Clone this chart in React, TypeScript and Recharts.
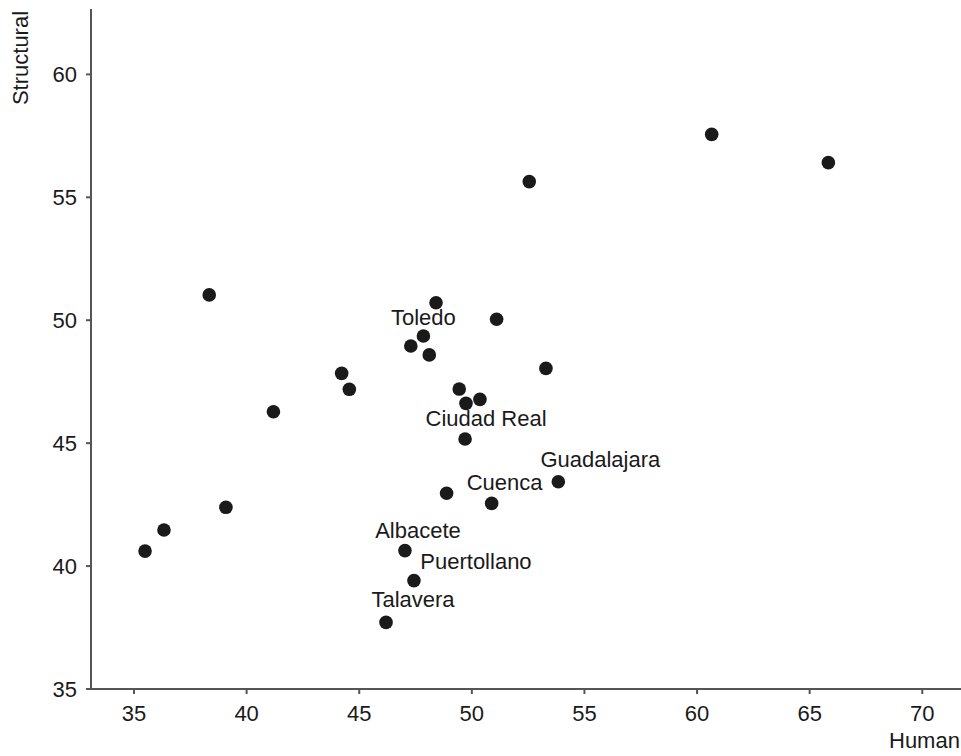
import { ScatterChart, Scatter, XAxis, YAxis } from "recharts";

// values
const cities = [
  "", "", "", "", "", "", "", "", "Toledo", "", "", "", "", "", "Ciudad Real",
  "", "", "", "", "", "Guadalajara", "Cuenca", "", "Albacete", "Puertollano", "Talavera",
];
const human = [
  35.49, 36.33, 38.34, 39.08, 41.19, 44.22, 44.56, 47.29, 47.85, 48.11, 48.41, 49.44, 49.74,
  50.36, 49.7, 51.1, 53.29, 52.55, 60.65, 65.83, 53.84, 50.88, 48.88, 47.03, 47.43, 46.19,
];
const structural = [
  40.61, 41.47, 51.03, 42.39, 46.28, 47.84, 47.19, 48.95, 49.36, 48.59, 50.71, 47.2, 46.62,
  46.78, 45.17, 50.04, 48.04, 55.64, 57.56, 56.41, 43.43, 42.55, 42.96, 40.63, 39.41, 37.71,
];
const xTicks = [35, 40, 45, 50, 55, 60, 65, 70];
const yTicks = [35, 40, 45, 50, 55, 60];

// where each label sits relative to its point (centre x, baseline y)
const labelOffset: Record<string, [number, number]> = {
  Toledo: [0, -11],
  "Ciudad Real": [21, -13],
  Guadalajara: [42, -15],
  Cuenca: [13, -13],
  Albacete: [13, -13],
  Puertollano: [62, -12],
  Talavera: [27, -15],
};

const data = human.map((h, i) => ({ human: h, structural: structural[i], name: cities[i] }));

const FONT = "'Liberation Sans', Arial, sans-serif";
const INK = "#1a1a1a";
const AXIS = "#555555";

function Dot(props: any) {
  const { cx, cy, payload } = props;
  const off = payload.name ? labelOffset[payload.name] : null;
  return (
    <g>
      <circle cx={cx} cy={cy} r={6.8} fill={INK} />
      {off && (
        <text
          x={cx + off[0]}
          y={cy + off[1]}
          textAnchor="middle"
          fontSize={22}
          fontFamily={FONT}
          fill={INK}
        >
          {payload.name}
        </text>
      )}
    </g>
  );
}

export default function App() {
  const tick = { fontSize: 22, fill: INK, fontFamily: FONT };
  return (
    <div style={{ position: "relative", width: 961, height: 756, background: "#fff" }}>
      <style>{"body{margin:0;overflow:hidden}"}</style>
      <ScatterChart width={961} height={756} margin={{ top: 9, right: 0, bottom: 0, left: 0 }}>
        <XAxis
          type="number"
          dataKey="human"
          domain={[33.09, 71.72]}
          ticks={xTicks}
          height={67}
          tick={tick}
          tickSize={5}
          tickMargin={11}
          axisLine={{ stroke: AXIS, strokeWidth: 2 }}
          tickLine={{ stroke: AXIS, strokeWidth: 2 }}
          allowDataOverflow
        />
        <YAxis
          type="number"
          dataKey="structural"
          domain={[35, 62.66]}
          ticks={yTicks}
          width={91}
          tick={tick}
          tickSize={5}
          tickMargin={9}
          axisLine={{ stroke: AXIS, strokeWidth: 2 }}
          tickLine={{ stroke: AXIS, strokeWidth: 2 }}
          allowDataOverflow
        />
        <Scatter data={data} shape={Dot} isAnimationActive={false} />
      </ScatterChart>
      <svg
        width={961}
        height={756}
        style={{ position: "absolute", left: 0, top: 0, pointerEvents: "none" }}
      >
        <text
          x={28}
          y={58}
          transform="rotate(-90 28 58)"
          textAnchor="middle"
          fontSize={22}
          fontFamily={FONT}
          fill={INK}
        >
          Structural
        </text>
        <text x={889} y={748} fontSize={22} fontFamily={FONT} fill={INK}>
          Human
        </text>
      </svg>
    </div>
  );
}
